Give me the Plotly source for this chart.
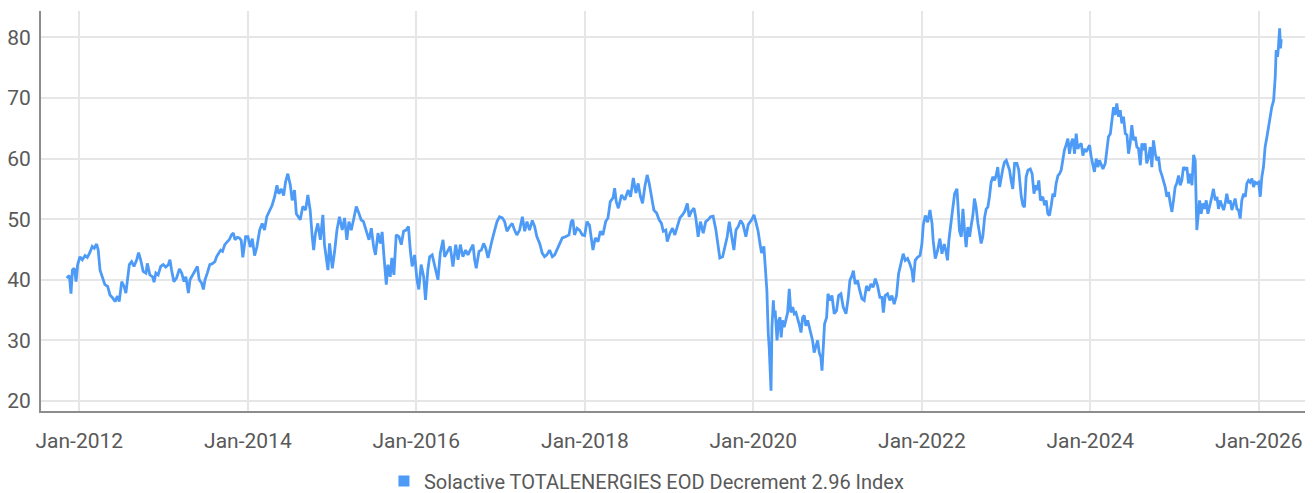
import plotly.graph_objects as go

SERIES_NAME = "Solactive TOTALENERGIES EOD Decrement 2.96 Index"

dates_values = """
2011-11-07 40.3
2011-11-19 40.7
2011-11-26 37.7
2011-12-02 41.6
2011-12-10 41.9
2011-12-18 39.7
2011-12-25 42.5
2012-01-04 43.8
2012-01-14 43.3
2012-01-26 44.0
2012-02-05 43.7
2012-02-16 44.5
2012-02-26 45.5
2012-03-06 45.2
2012-03-16 45.9
2012-03-23 44.9
2012-03-31 41.6
2012-04-11 40.5
2012-04-21 39.2
2012-05-03 38.9
2012-05-13 37.5
2012-05-25 37.0
2012-06-04 36.4
2012-06-14 37.3
2012-06-22 36.4
2012-07-03 39.7
2012-07-13 38.9
2012-07-21 37.8
2012-07-27 39.7
2012-08-05 42.5
2012-08-15 43.0
2012-08-25 42.2
2012-09-06 43.3
2012-09-14 44.5
2012-09-23 43.3
2012-10-04 41.4
2012-10-16 41.1
2012-10-22 42.7
2012-11-02 40.8
2012-11-14 40.5
2012-11-20 39.6
2012-11-28 41.1
2012-12-08 40.8
2012-12-19 42.2
2012-12-30 42.5
2013-01-10 42.1
2013-01-21 42.5
2013-01-28 43.3
2013-02-04 41.6
2013-02-14 39.7
2013-02-26 40.3
2013-03-10 41.8
2013-03-20 41.1
2013-03-30 39.7
2013-04-07 40.5
2013-04-18 37.8
2013-04-25 40.0
2013-05-06 40.8
2013-05-16 41.4
2013-05-27 42.2
2013-06-04 40.0
2013-06-14 39.5
2013-06-22 38.4
2013-06-29 40.0
2013-07-09 41.1
2013-07-20 42.5
2013-08-01 42.7
2013-08-11 43.0
2013-08-18 43.8
2013-08-26 44.4
2013-09-05 44.9
2013-09-13 44.7
2013-09-23 45.8
2013-10-04 46.3
2013-10-12 46.6
2013-10-22 47.4
2013-10-30 47.7
2013-11-06 46.6
2013-11-16 47.0
2013-11-25 46.9
2013-12-03 46.5
2013-12-10 43.7
2013-12-22 47.1
2014-01-01 47.1
2014-01-11 45.4
2014-01-20 46.8
2014-01-30 44.0
2014-02-09 45.4
2014-02-21 48.2
2014-03-04 49.3
2014-03-14 48.2
2014-03-24 50.4
2014-04-05 51.5
2014-04-16 52.3
2014-04-27 53.7
2014-05-07 55.6
2014-05-15 54.2
2014-05-26 55.0
2014-06-05 53.9
2014-06-13 56.1
2014-06-23 57.5
2014-07-04 55.6
2014-07-12 53.1
2014-07-22 54.8
2014-07-30 50.9
2014-08-10 50.1
2014-08-16 49.9
2014-08-27 52.1
2014-09-08 51.5
2014-09-18 54.0
2014-09-28 51.5
2014-10-07 47.1
2014-10-13 44.9
2014-10-21 47.7
2014-10-31 49.3
2014-11-11 46.6
2014-11-22 50.7
2014-11-29 45.8
2014-12-14 41.6
2014-12-21 46.0
2015-01-02 41.9
2015-01-12 44.7
2015-01-22 48.2
2015-02-02 50.4
2015-02-14 48.2
2015-02-24 50.2
2015-03-06 46.6
2015-03-15 49.6
2015-03-25 48.2
2015-04-04 49.9
2015-04-16 52.1
2015-04-27 51.0
2015-05-07 49.9
2015-05-17 49.6
2015-05-29 47.9
2015-06-10 46.6
2015-06-20 48.5
2015-06-30 45.5
2015-07-08 44.1
2015-07-19 47.7
2015-07-29 46.0
2015-08-06 47.9
2015-08-14 43.8
2015-08-24 39.2
2015-08-31 42.5
2015-09-10 40.5
2015-09-17 43.6
2015-09-26 40.8
2015-10-06 47.4
2015-10-18 47.1
2015-10-28 45.8
2015-11-07 48.0
2015-11-18 48.2
2015-11-28 48.8
2015-12-06 44.9
2015-12-14 42.2
2015-12-25 44.1
2016-01-04 40.0
2016-01-12 38.4
2016-01-22 42.5
2016-02-02 40.5
2016-02-10 36.7
2016-02-20 41.6
2016-02-28 43.8
2016-03-10 44.1
2016-03-20 42.5
2016-04-04 40.0
2016-04-14 44.4
2016-04-26 46.6
2016-05-03 43.8
2016-05-17 44.9
2016-05-27 45.5
2016-06-08 42.2
2016-06-20 45.8
2016-06-30 43.3
2016-07-10 45.8
2016-07-21 43.8
2016-08-02 44.9
2016-08-12 44.1
2016-08-22 44.9
2016-09-03 45.8
2016-09-10 43.3
2016-09-17 41.9
2016-09-29 44.7
2016-10-09 44.9
2016-10-19 46.0
2016-10-28 45.2
2016-11-07 43.6
2016-11-14 44.9
2016-11-25 46.6
2016-12-06 48.2
2016-12-16 49.6
2016-12-27 50.4
2017-01-08 50.2
2017-01-18 49.6
2017-01-28 48.0
2017-02-09 48.8
2017-02-20 49.3
2017-03-02 48.2
2017-03-12 47.4
2017-03-24 48.2
2017-04-05 50.4
2017-04-15 48.0
2017-04-25 49.6
2017-05-06 48.2
2017-05-18 49.8
2017-05-28 48.8
2017-06-07 47.1
2017-06-19 46.0
2017-06-30 44.4
2017-07-10 43.8
2017-07-20 44.1
2017-08-01 44.9
2017-08-13 43.8
2017-08-23 44.1
2017-09-02 44.9
2017-09-13 45.8
2017-09-25 46.9
2017-10-09 47.1
2017-10-24 47.4
2017-11-03 49.6
2017-11-10 49.9
2017-11-17 47.4
2017-11-28 48.5
2017-12-09 48.2
2017-12-21 47.4
2017-12-31 47.3
2018-01-10 49.6
2018-01-21 49.0
2018-01-29 47.1
2018-02-05 44.9
2018-02-15 46.9
2018-02-27 46.3
2018-03-09 48.0
2018-03-20 47.4
2018-04-01 49.6
2018-04-11 50.2
2018-04-21 52.9
2018-05-03 53.5
2018-05-10 55.1
2018-05-17 52.9
2018-05-26 51.8
2018-06-09 54.0
2018-06-23 53.2
2018-07-08 54.8
2018-07-18 53.7
2018-07-30 56.8
2018-08-10 54.3
2018-08-20 55.9
2018-08-30 53.7
2018-09-08 52.6
2018-09-18 55.4
2018-09-28 57.3
2018-10-07 55.9
2018-10-17 53.7
2018-10-27 51.5
2018-11-08 51.0
2018-11-19 49.9
2018-11-29 49.3
2018-12-07 48.0
2018-12-18 48.2
2018-12-24 46.3
2019-01-05 47.7
2019-01-16 48.5
2019-01-26 47.4
2019-02-05 48.8
2019-02-17 50.2
2019-02-28 50.7
2019-03-10 51.3
2019-03-21 52.6
2019-03-29 50.4
2019-04-08 51.3
2019-04-19 51.8
2019-04-27 50.2
2019-05-07 47.1
2019-05-17 49.6
2019-05-29 47.7
2019-06-09 49.6
2019-06-19 49.9
2019-06-30 50.4
2019-07-11 50.5
2019-07-23 48.2
2019-08-02 45.5
2019-08-09 43.6
2019-08-21 43.8
2019-08-31 45.5
2019-09-10 47.1
2019-09-19 49.6
2019-09-29 47.1
2019-10-09 44.9
2019-10-18 48.2
2019-10-28 48.8
2019-11-07 49.8
2019-11-18 49.1
2019-11-30 47.1
2019-12-10 49.1
2019-12-25 49.9
2020-01-04 50.7
2020-01-12 49.6
2020-01-22 48.0
2020-01-30 46.0
2020-02-06 44.4
2020-02-16 45.5
2020-02-25 39.6
2020-02-29 38.2
2020-03-06 31.1
2020-03-10 28.9
2020-03-18 21.7
2020-03-22 32.2
2020-03-28 36.6
2020-04-01 33.8
2020-04-05 34.9
2020-04-13 30.0
2020-04-20 33.3
2020-04-26 33.8
2020-05-01 30.5
2020-05-07 33.3
2020-05-14 32.2
2020-05-22 33.8
2020-05-29 34.6
2020-06-05 38.5
2020-06-12 34.6
2020-06-20 35.5
2020-06-27 34.4
2020-07-04 34.6
2020-07-11 33.8
2020-07-18 32.7
2020-07-26 31.3
2020-08-02 33.8
2020-08-09 34.1
2020-08-16 32.4
2020-08-24 33.3
2020-08-31 32.2
2020-09-07 31.6
2020-09-14 30.0
2020-09-21 28.0
2020-09-29 28.9
2020-10-06 30.0
2020-10-13 28.0
2020-10-20 27.2
2020-10-25 25.0
2020-10-30 27.8
2020-11-05 32.7
2020-11-14 33.8
2020-11-20 37.7
2020-11-28 36.6
2020-12-07 37.4
2020-12-17 34.4
2020-12-27 34.9
2021-01-05 37.4
2021-01-15 37.7
2021-01-25 35.5
2021-02-06 34.4
2021-02-16 37.1
2021-02-23 39.9
2021-03-04 40.7
2021-03-10 41.5
2021-03-18 39.3
2021-03-28 39.9
2021-04-05 38.5
2021-04-16 36.9
2021-04-26 36.6
2021-05-06 39.0
2021-05-15 38.2
2021-05-25 39.3
2021-06-04 38.8
2021-06-13 40.2
2021-06-23 39.0
2021-07-03 37.1
2021-07-12 37.1
2021-07-18 34.6
2021-07-26 37.4
2021-08-05 37.7
2021-08-15 36.6
2021-08-24 37.4
2021-09-03 36.0
2021-09-13 37.4
2021-09-22 41.0
2021-10-02 42.9
2021-10-12 44.3
2021-10-21 43.2
2021-10-31 43.5
2021-11-10 42.6
2021-11-19 41.5
2021-11-25 39.6
2021-12-03 43.2
2021-12-13 43.7
2021-12-24 44.0
2022-01-01 45.9
2022-01-07 49.0
2022-01-16 50.6
2022-01-26 49.5
2022-02-05 51.5
2022-02-14 49.3
2022-02-19 46.5
2022-02-28 43.5
2022-03-10 44.8
2022-03-20 46.8
2022-03-29 44.3
2022-04-08 45.9
2022-04-15 44.8
2022-04-22 43.2
2022-04-28 46.5
2022-05-05 49.3
2022-05-12 50.9
2022-05-23 54.2
2022-06-02 55.0
2022-06-06 52.6
2022-06-13 48.1
2022-06-21 47.1
2022-06-28 51.7
2022-07-05 48.1
2022-07-12 45.4
2022-07-19 48.7
2022-07-27 47.1
2022-08-03 49.0
2022-08-10 50.6
2022-08-17 53.4
2022-08-24 52.0
2022-09-01 49.3
2022-09-08 47.9
2022-09-15 46.0
2022-09-22 47.1
2022-09-30 50.3
2022-10-07 51.7
2022-10-14 52.0
2022-10-21 53.7
2022-10-28 56.1
2022-11-05 57.0
2022-11-12 56.4
2022-11-19 57.2
2022-11-26 58.6
2022-12-04 55.3
2022-12-11 57.2
2022-12-18 58.3
2022-12-25 59.4
2023-01-02 59.7
2023-01-09 58.9
2023-01-16 58.1
2023-01-23 56.4
2023-01-30 55.0
2023-02-07 59.2
2023-02-17 59.2
2023-02-25 58.1
2023-03-08 53.7
2023-03-15 52.3
2023-03-22 52.0
2023-03-29 57.0
2023-04-06 58.1
2023-04-16 58.3
2023-04-24 57.5
2023-05-02 54.2
2023-05-09 55.6
2023-05-16 54.8
2023-05-23 56.4
2023-05-30 53.1
2023-06-09 53.7
2023-06-17 52.3
2023-06-24 53.1
2023-07-01 50.9
2023-07-08 50.6
2023-07-16 52.3
2023-07-23 54.2
2023-07-30 53.7
2023-08-06 55.9
2023-08-14 57.2
2023-08-21 57.5
2023-08-28 58.1
2023-09-04 59.7
2023-09-11 61.4
2023-09-18 62.2
2023-09-26 63.3
2023-10-03 60.8
2023-10-10 62.5
2023-10-17 63.3
2023-10-25 60.8
2023-11-01 64.1
2023-11-08 61.6
2023-11-15 62.2
2023-11-23 62.5
2023-11-30 60.5
2023-12-07 61.6
2023-12-14 61.1
2023-12-21 61.6
2023-12-29 62.2
2024-01-05 60.3
2024-01-12 58.9
2024-01-19 57.8
2024-01-27 60.0
2024-02-03 58.6
2024-02-10 59.7
2024-02-25 58.3
2024-03-06 59.2
2024-03-13 61.9
2024-03-20 63.6
2024-03-28 64.1
2024-04-04 66.9
2024-04-11 68.5
2024-04-18 67.2
2024-04-25 69.1
2024-05-03 66.9
2024-05-10 68.0
2024-05-17 65.8
2024-05-24 66.9
2024-06-01 64.1
2024-06-08 63.9
2024-06-15 60.8
2024-06-22 62.5
2024-06-29 65.5
2024-07-07 63.0
2024-07-14 63.6
2024-07-21 61.9
2024-07-28 61.7
2024-08-05 58.9
2024-08-12 62.5
2024-08-19 61.4
2024-08-26 62.5
2024-09-02 59.2
2024-09-10 60.3
2024-09-17 61.9
2024-09-24 58.6
2024-10-01 63.0
2024-10-09 60.8
2024-10-16 59.7
2024-10-23 60.3
2024-10-30 58.1
2024-11-07 57.2
2024-11-14 56.4
2024-11-21 55.3
2024-11-28 53.7
2024-12-05 54.5
2024-12-13 52.6
2024-12-20 51.2
2024-12-27 53.1
2025-01-03 55.3
2025-01-10 55.9
2025-01-18 57.2
2025-01-25 55.6
2025-02-01 56.4
2025-02-08 58.6
2025-02-16 58.1
2025-02-23 58.6
2025-03-02 55.9
2025-03-09 57.5
2025-03-17 55.6
2025-03-24 60.6
2025-03-31 59.7
2025-04-07 48.2
2025-04-12 50.9
2025-04-19 53.1
2025-04-26 50.9
2025-05-03 52.6
2025-05-10 51.7
2025-05-18 53.1
2025-05-25 50.9
2025-06-04 52.3
2025-06-11 53.7
2025-06-18 55.0
2025-06-26 53.1
2025-07-03 53.7
2025-07-10 51.7
2025-07-17 53.1
2025-07-25 52.3
2025-08-01 51.5
2025-08-08 52.6
2025-08-15 54.2
2025-08-23 52.6
2025-08-30 53.1
2025-09-06 51.5
2025-09-13 52.3
2025-09-20 53.4
2025-09-28 51.7
2025-10-05 51.5
2025-10-12 50.1
2025-10-19 53.1
2025-10-27 54.2
2025-11-03 53.7
2025-11-10 55.9
2025-11-17 56.4
2025-11-24 56.1
2025-12-02 56.7
2025-12-09 55.3
2025-12-16 56.1
2025-12-23 55.9
2025-12-31 56.1
2026-01-07 53.7
2026-01-14 57.0
2026-01-21 58.6
2026-01-28 61.9
2026-02-05 63.6
2026-02-12 65.2
2026-02-19 67.2
2026-02-26 68.5
2026-03-06 69.6
2026-03-13 73.5
2026-03-17 77.9
2026-03-23 76.8
2026-03-27 78.5
2026-04-01 81.5
2026-04-05 78.2
2026-04-08 79.7
"""

rows = [ln.split() for ln in dates_values.strip().splitlines()]
dates = [r[0] for r in rows]
values = [float(r[1]) for r in rows]

y_ticks = [20, 30, 40, 50, 60, 70, 80]

LINE_COLOR = "#4D9BF7"
TEXT_COLOR = "#595959"
GRID_COLOR = "#E6E6E6"
AXIS_COLOR = "#8C8C8C"
FONT = "Roboto"

fig = go.Figure()
fig.add_trace(go.Scatter(
    x=dates, y=values, mode="lines",
    line=dict(color=LINE_COLOR, width=2.8),
    name=SERIES_NAME, showlegend=False,
))
fig.add_trace(go.Scatter(
    x=[None], y=[None], mode="markers",
    marker=dict(symbol="square", size=11, color=LINE_COLOR),
    name=SERIES_NAME, showlegend=True,
))

fig.update_layout(
    width=1314, height=493,
    margin=dict(l=41, r=9, t=11, b=82, autoexpand=False),
    paper_bgcolor="white", plot_bgcolor="white",
    font=dict(family=FONT, size=21, color=TEXT_COLOR),
    legend=dict(
        orientation="h", xref="paper", yref="paper",
        x=0.479, xanchor="center", y=-0.175, yanchor="middle",
        font=dict(family=FONT, size=20, color=TEXT_COLOR),
        itemwidth=30, tracegroupgap=0,
    ),
    xaxis=dict(
        type="date", automargin=False,
        range=["2011-07-19", "2026-07-20"],
        tick0="2012-01-01", dtick="M24", tickformat="%b-%Y",
        showgrid=True, gridcolor=GRID_COLOR, gridwidth=2,
        showline=True, linecolor=AXIS_COLOR, linewidth=2,
        ticks="", ticklabelstandoff=10, zeroline=False,
    ),
    yaxis=dict(
        automargin=False,
        range=[18.35, 84.35],
        tickvals=y_ticks,
        showgrid=True, gridcolor=GRID_COLOR, gridwidth=2,
        showline=True, linecolor=AXIS_COLOR, linewidth=2,
        ticks="", ticklabelstandoff=4, zeroline=False,
    ),
)

fig.write_html(
    "out.html",
    config={"displayModeBar": False},
    post_script="document.body.style.margin='0';document.body.style.overflow='hidden';",
)
